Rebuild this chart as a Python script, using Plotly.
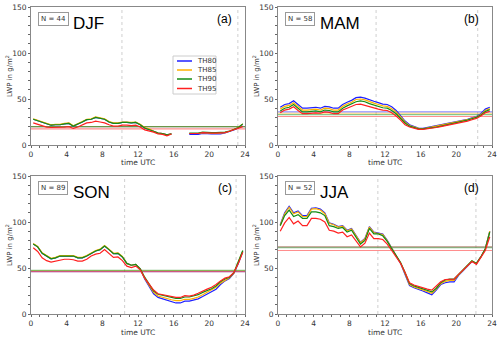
import plotly.graph_objects as go

# half-hourly time axis (UTC)
time_utc = [0.25, 0.75, 1.25, 1.75, 2.25, 2.75, 3.25, 3.75, 4.25, 4.75, 5.25, 5.75,
            6.25, 6.75, 7.25, 7.75, 8.25, 8.75, 9.25, 9.75, 10.25, 10.75, 11.25, 11.75,
            12.25, 12.75, 13.25, 13.75, 14.25, 14.75, 15.25, 15.75, 16.25, 16.75, 17.25, 17.75,
            18.25, 18.75, 19.25, 19.75, 20.25, 20.75, 21.25, 21.75, 22.25, 22.75, 23.25, 23.75]

thresholds = ['TH80', 'TH85', 'TH90', 'TH95']
colors = ['#1f1fff', '#ffb000', '#148c14', '#ff2020']

# DJF
djf_th80 = [28, 26.5, 25, 23, 21.5, 22, 22, 23, 23.5, 20.5, 22.5, 25, 27.5, 28, 30, 29, 28, 25, 23.5, 23.5,
            24.5, 24.5, 24, 24.5, 22, 18.5, 17, 15, 13, 12.5, 11, 12, None, None, None, 11.5,
            11.5, 11.5, 12.5, 12, 12, 12, 12, 13, 14.5, 16.5, 18.5, 22.5]
djf_th85 = [28.5, 27, 25.5, 23.5, 22, 22.5, 22.5, 23.5, 24, 21, 23, 25.5, 28, 28.5, 30.5, 29.5, 28.5, 25.5, 24, 24,
            25, 25, 24.5, 25, 22.5, 19, 17.5, 15, 13, 12.5, 11, 12, None, None, None, 12.5,
            12.5, 12.5, 13.5, 13, 13, 13, 13, 13.5, 15, 17, 19, 23]
djf_th90 = [28, 26.5, 25, 23, 21.5, 22, 22, 23, 23.5, 20.5, 22.5, 25, 27.5, 28, 30, 29, 28, 25, 23.5, 23.5,
            24.5, 24.5, 24, 24.5, 22, 18.5, 17, 15, 13, 12.5, 11, 12, None, None, None, 13,
            13, 13, 14, 13.5, 13.5, 13.5, 13.5, 14, 15, 17, 19, 23]
djf_th95 = [24, 22.5, 21, 19.5, 19, 19, 19, 19.5, 20, 18, 19.5, 21.5, 24, 24.5, 26, 25, 24, 22, 20.5, 20.5,
            21.5, 21.5, 21, 21.5, 19.5, 16.5, 15.5, 14, 12, 11.5, 10, 12, None, None, None, 12.5,
            12.5, 12.5, 13.5, 13, 13, 13, 13, 13.5, 15, 16.5, 18, 20]

# MAM
mam_th80 = [41, 44, 45, 48, 44, 40, 40, 40.5, 41, 40, 42, 41.5, 40, 40, 44, 46.5, 48.5, 51.5, 52, 51,
            49, 47.5, 46, 44.5, 44, 41.5, 37.5, 32, 26, 22, 20, 18.5, 18, 19, 20, 20.5,
            21.5, 22.5, 23.5, 24.5, 25.5, 26.5, 28, 29.5, 31, 34, 39, 41]
mam_th85 = [39, 42, 43, 46, 42, 38, 38, 38.5, 39, 38, 40, 39.5, 38, 38, 42, 44.5, 46.5, 49.5, 50, 49,
            47, 45.5, 44, 42.5, 42, 39.5, 36, 30.5, 25, 21, 19.5, 18, 17.5, 18.5, 19.5, 20,
            21, 22, 23, 24, 25, 26, 27.5, 29, 30.5, 33, 37.5, 39.5]
mam_th90 = [37, 40, 41, 44, 40, 36, 36, 36.5, 37, 36, 38, 37.5, 36, 36, 40, 42.5, 44.5, 47, 48, 47,
            45, 43.5, 42, 40.5, 40, 37.5, 34, 29, 24, 20.5, 19, 17.5, 17.5, 18, 19, 19.5,
            20.5, 21.5, 22.5, 23.5, 24.5, 25.5, 27, 28.5, 30, 32.5, 36.5, 38.5]
mam_th95 = [35, 38, 39, 41.5, 37.5, 34, 34, 34.5, 35, 34.5, 36, 35.5, 34, 34, 38, 40, 42, 44, 44.5, 43,
            42, 40.5, 39, 38, 37.5, 35, 31.5, 27, 22, 19.5, 18.5, 17, 17, 17.5, 18.5, 19,
            20, 21, 21.5, 22.5, 23.5, 24.5, 26, 27.5, 29, 31.5, 35, 36.5]

# SON
son_th80 = [76, 73, 66, 63, 60, 61, 63, 63, 63, 63, 61, 61, 63, 66, 68.5, 70, 74, 70, 65.5, 66,
            62, 55, 53, 54, 49, 38, 30, 22, 18, 16.5, 15, 13.5, 12, 12, 14, 14,
            15, 16.5, 19, 21.5, 24, 27, 32, 36, 38.5, 44, 55, 68]
son_th85 = [76.5, 73.5, 66.5, 63.5, 60.5, 61.5, 63.5, 63.5, 63.5, 63.5, 61.5, 61.5, 63.5, 66.5, 69, 70.5, 74.5, 70.5, 66, 66.5,
            62.5, 55, 53, 54, 49, 39, 31.5, 23.5, 19.5, 18, 17, 15.5, 14.5, 14.5, 16, 16,
            17, 18.5, 21, 23.5, 26, 29, 33.5, 37, 39.5, 44.5, 55.5, 68.5]
son_th90 = [76, 73, 66, 63, 60, 61, 63, 63, 63, 63, 61, 61, 63, 66, 68.5, 70, 74, 70, 65.5, 66,
            62, 55, 53, 54, 49, 40, 33, 25, 21.5, 20.5, 19.5, 18, 17, 17, 18.5, 18.5,
            19.5, 21, 23.5, 25.5, 27.5, 30.5, 35, 38, 40, 45, 56, 69]
son_th95 = [72, 68, 61, 58, 56.5, 57.5, 59, 59.5, 59.5, 59, 57.5, 57.5, 59.5, 63, 65, 66, 70, 66, 61.5, 62,
            58, 52, 50.5, 52, 48, 39, 33, 26, 22, 21, 20, 19, 18, 18, 20, 19.5,
            20.5, 22.5, 25, 27, 29, 32, 36, 39, 40.5, 45, 55, 67]

# JJA
jja_th80 = [97, 110, 117, 110, 112, 107, 107, 115, 115.5, 114, 110, 99, 97.5, 95, 96, 91, 93, 85, 78, 82,
            95, 89, 88, 87, 80, 72, 64, 55, 43, 31, 28.5, 27, 25, 23, 21, 26,
            32, 34, 35, 35, 42, 47, 52, 57, 55, 62, 71, 90]
jja_th85 = [96.5, 109, 116, 109, 111, 106, 106, 114, 114.5, 113, 109, 98.5, 97, 94.5, 95.5, 90.5, 92.5, 84.5, 77.5, 81.5,
            94.5, 88.5, 87.5, 86.5, 79.5, 71.5, 63.5, 55.5, 44, 32, 29.5, 28, 26, 24.5, 22.5, 27,
            33, 35.5, 36.5, 36.5, 42.5, 47.5, 52.5, 57.5, 55, 62, 71, 90]
jja_th90 = [96, 107, 113, 106, 108, 104, 104, 111, 111, 110, 107, 96, 95, 93, 94, 89, 91, 83, 76, 80,
            93, 87, 87, 85, 79, 71, 63, 56, 45, 33, 30.5, 29, 27, 26, 24, 28,
            34, 37, 38, 38, 43, 48, 53, 58, 55, 62, 71, 89]
jja_th95 = [90, 99, 105, 98, 101, 96, 96, 104, 104, 103, 100, 91, 90, 88, 89, 84, 86, 79, 73, 77,
            88, 82, 82, 81, 76, 69, 62, 55, 45, 34, 31.5, 30, 28, 27, 26, 30,
            35, 37.5, 38, 38, 43, 48, 52, 57, 54, 61, 69, 84]

# seasonal means per threshold (horizontal lines)
djf_mean = [20, 20, 20, 17.5]
mam_mean = [36, 34.5, 33, 31]
son_mean = [46, 47, 47.5, 46]
jja_mean = [73, 73, 72, 69]

# sunrise / sunset markers (UTC)
djf_sun = [10.2, 23.2]
mam_sun = [11.0, 22.4]
son_sun = [10.5, 23.0]
jja_sun = [11.2, 22.2]

seasons = ['DJF', 'MAM', 'SON', 'JJA']
counts = [44, 58, 89, 52]
letters = ['(a)', '(b)', '(c)', '(d)']
series = [
    [djf_th80, djf_th85, djf_th90, djf_th95],
    [mam_th80, mam_th85, mam_th90, mam_th95],
    [son_th80, son_th85, son_th90, son_th95],
    [jja_th80, jja_th85, jja_th90, jja_th95],
]
means = [djf_mean, mam_mean, son_mean, jja_mean]
suns = [djf_sun, mam_sun, son_sun, jja_sun]

W, H = 500, 337
# panel pixel boxes (left, right, top, bottom)
boxes = [(31, 245, 7, 145), (278, 492, 7, 145), (31, 245, 176, 314), (278, 492, 176, 314)]


def px(x):
    return x / W


def py(y):
    return 1 - y / H


fig = go.Figure()
layout = dict(width=W, height=H, margin=dict(l=0, r=0, t=0, b=0, autoexpand=False),
              paper_bgcolor='white', plot_bgcolor='white',
              font=dict(family='DejaVu Sans', size=8, color='#333'),
              showlegend=False)
shapes, annotations = [], []

for i in range(4):
    l, r, t, b = boxes[i]
    n = i + 1
    xa = 'xaxis' if n == 1 else f'xaxis{n}'
    ya = 'yaxis' if n == 1 else f'yaxis{n}'
    xr = 'x' if n == 1 else f'x{n}'
    yr = 'y' if n == 1 else f'y{n}'
    axis_style = dict(showline=True, mirror=True, linecolor='#888', linewidth=1, automargin=False,
                      showgrid=False, zeroline=False, ticks='outside', ticklen=2,
                      tickcolor='#666', tickfont=dict(size=7.5, color='#333'))
    layout[xa] = dict(domain=[px(l), px(r)], range=[0, 24], tickvals=[0, 4, 8, 12, 16, 20, 24],
                      anchor=yr, minor=dict(dtick=1, ticks='outside', ticklen=2, tickcolor='#666'),
                      **axis_style)
    layout[ya] = dict(domain=[py(b), py(t)], range=[0, 150], tickvals=[0, 50, 100, 150],
                      anchor=xr, minor=dict(dtick=10, ticks='outside', ticklen=2, tickcolor='#666'),
                      **axis_style)

    # axis titles
    annotations.append(dict(text='time UTC', xref='paper', yref='paper', x=px((l + r) / 2),
                            y=py(b + 18), xanchor='center', yanchor='middle', showarrow=False,
                            font=dict(size=7.5, color='#333')))
    annotations.append(dict(text='LWP in g/m<sup>2</sup>', xref='paper', yref='paper',
                            x=px(l - 22), y=py((t + b) / 2), xanchor='center', yanchor='middle',
                            textangle=-90, showarrow=False, font=dict(size=7, color='#333')))

    # sunrise / sunset dotted lines
    for s in suns[i]:
        shapes.append(dict(type='line', xref=xr, yref=f'{yr} domain', x0=s, x1=s, y0=0, y1=1,
                           line=dict(color='#cfcfcf', width=1, dash='dot'), layer='below'))
    # mean lines
    for k in range(4):
        shapes.append(dict(type='line', xref=f'{xr} domain', yref=yr, x0=0, x1=1,
                           y0=means[i][k], y1=means[i][k], opacity=0.5,
                           line=dict(color=colors[k], width=1.2), layer='below'))
    # curves
    for k in range(4):
        fig.add_trace(go.Scatter(x=time_utc, y=series[i][k], mode='lines', name=thresholds[k],
                                 line=dict(color=colors[k], width=1.2), xaxis=xr, yaxis=yr,
                                 connectgaps=False, hoverinfo='skip'))

    annotations.append(dict(text=f'N = {counts[i]}', xref='paper', yref='paper',
                            x=px(l + 7), y=py(t + 5), xanchor='left', yanchor='top',
                            showarrow=False, font=dict(size=7, color='#333'),
                            bordercolor='#999', borderwidth=1, borderpad=2, bgcolor='white'))
    annotations.append(dict(text=seasons[i], xref='paper', yref='paper',
                            x=px(l + 40), y=py(t + 5), xanchor='left', yanchor='top',
                            showarrow=False, font=dict(family='Liberation Sans', size=17, color='black')))
    annotations.append(dict(text=letters[i], xref='paper', yref='paper',
                            x=px(r - 11), y=py(t + 3), xanchor='right', yanchor='top',
                            showarrow=False, font=dict(family='Liberation Sans', size=12, color='black')))

# hand-drawn legend in panel (a)
shapes.append(dict(type='rect', xref='paper', yref='paper', x0=px(173), x1=px(216),
                   y0=py(94), y1=py(56), line=dict(color='#ccc', width=1), fillcolor='white'))
legend_y = [61, 70, 79, 88.5]
for k in range(4):
    shapes.append(dict(type='line', xref='paper', yref='paper', x0=px(177), x1=px(192),
                       y0=py(legend_y[k]), y1=py(legend_y[k]), line=dict(color=colors[k], width=1.5)))
    annotations.append(dict(text=thresholds[k], xref='paper', yref='paper', x=px(195),
                            y=py(legend_y[k]), xanchor='left', yanchor='middle', showarrow=False,
                            font=dict(size=7, color='#333')))

layout['shapes'] = shapes
layout['annotations'] = annotations
fig.update_layout(**layout)

# page body has a default margin; remove it so the figure fills the window exactly
fig.write_html('out.html', config={'displayModeBar': False},
               post_script="document.body.style.margin='0';")
